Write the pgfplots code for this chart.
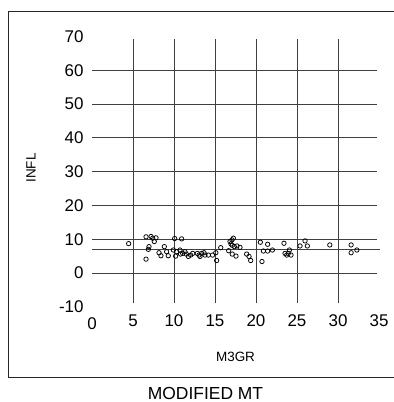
\documentclass[border=0pt]{standalone}
\usepackage{pgfplots}
\pgfplotsset{compat=1.18}
\usepackage{fontspec}
\setmainfont{Liberation Sans}
\begin{document}
\begin{tikzpicture}
\useasboundingbox (0,0) rectangle (394bp,402bp);
% outer frame (right side cut off)
\draw[black!85, line width=0.8bp] (394bp,391bp) -- (8.3bp,391bp) -- (8.3bp,24.3bp) -- (394bp,24.3bp);
\node[font=\fontsize{17.5}{21}\selectfont, inner sep=1bp] at (205.5bp,9bp) {MODIFIED MT};
\begin{axis}[
  at={(92bp,88.44bp)}, anchor=south west,
  x=8.2bp, y=3.38bp,
  xmin=0, xmax=36, ymin=-12, ymax=72,
  enlargelimits=false,
  clip=false,
  axis line style={draw=none},
  major tick length=0pt,
  xtick={5,10,...,35},
  extra x ticks={0},
  extra x tick style={xticklabel style={yshift=-2.8bp}},
  ytick={-10,0,...,70},
  tick label style={font=\fontsize{17}{20}\selectfont},
  /pgf/number format/assume math mode=true,
  xticklabel style={anchor=north, yshift=2.5bp},
  yticklabel style={anchor=east, xshift=-5bp},
  xlabel={M3GR}, ylabel={INFL},
  label style={font=\fontsize{13.5}{16}\selectfont},
  xlabel style={at={(axis cs:17.5,-24.85)}, anchor=center},
  ylabel style={at={(axis cs:-7.44,31.1)}, anchor=center, rotate=0},
  gridline/.style={black!75, line width=0.9bp},
]
\pgfplotsinvokeforeach{0,10,...,60}{\addplot[gridline, mark=none] coordinates {(0,#1) (34.8,#1)};}
\pgfplotsinvokeforeach{5,10,...,30}{\addplot[gridline, mark=none] coordinates {(#1,-9) (#1,69.2)};}
\addplot[gridline, mark=none] coordinates {(0,6.9) (35.1,6.9)};
\addplot[only marks, mark=o, mark size=2.2bp, line width=0.75bp, black] coordinates {
(4.47,8.7) (6.59,4.1) (6.59,10.7) (6.95,7.8) (6.87,7.0) (7.2,10.8) (7.4,10.3)
(7.6,9.3) (7.8,10.4) (8.17,6.0) (8.41,5.1) (8.82,7.8) (9.1,6.3) (9.3,5.1)
(10.08,10.2) (9.92,6.8) (10.2,5.0) (10.33,6.3) (10.73,6.8) (10.93,10.1) (10.8,5.6)
(11.06,5.8) (11.34,6.3) (11.5,5.6) (11.75,4.9) (12.03,5.3) (12.28,5.8) (12.85,5.8)
(13.05,5.3) (13.17,4.9) (13.37,5.8) (13.66,6.0) (13.78,5.3) (14.19,5.3) (14.7,5.3)
(15.1,6.0) (15.2,3.7) (15.7,7.5) (16.67,6.6) (16.83,9.3) (16.95,8.6) (17.07,9.8)
(17.24,10.3) (17.1,8.2) (17.36,7.8) (17.68,8.0) (18.05,7.6) (17.1,5.6) (17.56,5.0)
(18.86,5.6) (19.15,4.9) (19.35,3.7) (20.53,9.1) (20.73,3.4) (20.9,6.5) (21.42,8.5)
(21.42,6.5) (22.0,6.8) (23.41,8.8) (23.54,5.8) (23.74,5.3) (23.94,5.8) (24.07,6.8)
(24.27,5.3) (25.37,8.0) (25.98,9.5) (26.26,8.0) (29.0,8.3) (31.6,8.3) (31.6,6.0)
(32.3,6.8)
};
\end{axis}
\end{tikzpicture}
\end{document}
